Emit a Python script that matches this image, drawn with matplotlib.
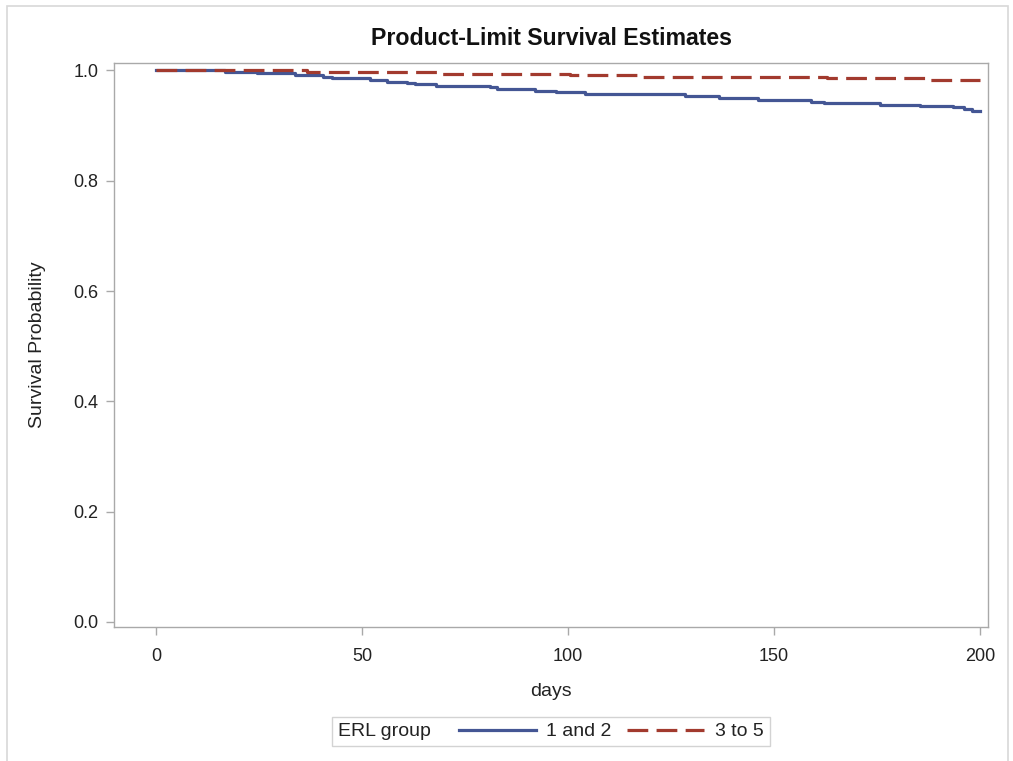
import matplotlib
matplotlib.use("Agg")
import matplotlib.pyplot as plt
from matplotlib.patches import Rectangle
from matplotlib.offsetbox import HPacker

# Kaplan-Meier step estimates by ERL group (event times in days)
group_labels = ["1 and 2", "3 to 5"]

days_12 = [0, 16.7, 24.4, 33.7, 40.5, 42.6, 52, 56, 60.8, 62.9, 68, 81, 82.7,
           92, 97, 104, 128.4, 136.5, 146, 159, 162, 175.7, 185.4, 193.4,
           196, 198, 200]
surv_12 = [1.0, 0.9971, 0.9953, 0.9922, 0.9891, 0.9862, 0.9831, 0.9800,
           0.9771, 0.9746, 0.9716, 0.9698, 0.9667, 0.9637, 0.9607, 0.9576,
           0.9540, 0.9504, 0.9467, 0.9437, 0.9408, 0.9382, 0.9353, 0.9335,
           0.9304, 0.9273, 0.9273]

days_35 = [0, 36.6, 69.3, 100.5, 118, 162.8, 187.4, 200]
surv_35 = [1.0, 0.998, 0.994, 0.991, 0.988, 0.9855, 0.983, 0.983]

x_ticks = [0, 50, 100, 150, 200]
y_ticks = [0.0, 0.2, 0.4, 0.6, 0.8, 1.0]

title = "Product-Limit Survival Estimates"
x_label = "days"
y_label = "Survival Probability"
legend_title = "ERL group"

blue = "#445694"
red = "#A23A2E"
axis_gray = "#A9A9A9"
text_dark = "#222222"

plt.rcParams["font.family"] = ["Liberation Sans", "DejaVu Sans"]

fig = plt.figure(figsize=(10.13, 7.61), dpi=100)
ax = fig.add_axes([114 / 1013, 1 - 627 / 761, (988 - 114) / 1013, (627 - 63) / 761])

l1, = ax.step(days_12, surv_12, where="post", color=blue, lw=2.3,
              label=group_labels[0])
l2, = ax.step(days_35, surv_35, where="post", color=red, lw=2.3,
              ls=(0, (6.5, 2.6)), label=group_labels[1])

ax.set_xlim(-10.2, 201.9)
ax.set_ylim(-0.0095, 1.0136)
ax.set_xticks(x_ticks)
ax.set_yticks(y_ticks)
ax.set_xticklabels([str(t) for t in x_ticks])
ax.set_yticklabels([f"{t:.1f}" for t in y_ticks])

for s in ax.spines.values():
    s.set_color(axis_gray)
    s.set_linewidth(1.0)
ax.tick_params(axis="both", colors=axis_gray, labelcolor=text_dark,
               labelsize=13, length=6, width=1.0)
ax.tick_params(axis="x", pad=9)
ax.tick_params(axis="y", pad=5)

ax.set_xlabel(x_label, fontsize=14, color=text_dark, labelpad=13)
ax.set_ylabel(y_label, fontsize=14, color=text_dark, labelpad=20)
ax.set_title(title, fontsize=16.7, fontweight="bold", color="#111111", pad=13)

# Legend laid out on one row: group title followed by the entries
leg = fig.legend(handles=[l1, l2], labels=group_labels, title=legend_title,
                 loc="center", bbox_to_anchor=(551 / 1013, 1 - 731.5 / 761),
                 ncol=2, fontsize=14, title_fontsize=14,
                 handlelength=3.96, handletextpad=0.55, columnspacing=0.8,
                 borderpad=0.3, fancybox=False, frameon=True)
leg.get_frame().set_edgecolor("#C8C8C8")
leg.get_frame().set_linewidth(1.0)
for t in leg.get_texts():
    t.set_color(text_dark)
leg.get_title().set_color(text_dark)
old_box = leg._legend_box
row = HPacker(pad=old_box.pad, sep=20, align="center",
              children=[leg._legend_title_box, leg._legend_handle_box])
row.set_figure(fig)
row.set_offset(leg._findoffset)
leg._legend_box = row

# Outer page border
fig.add_artist(Rectangle((7 / 1013, -0.2), (1008 - 7) / 1013, 1.2 - 6 / 761,
                         transform=fig.transFigure, fill=False,
                         edgecolor="#D8D8D8", linewidth=1.2, clip_on=False))

fig.savefig("out.png", dpi=100)
